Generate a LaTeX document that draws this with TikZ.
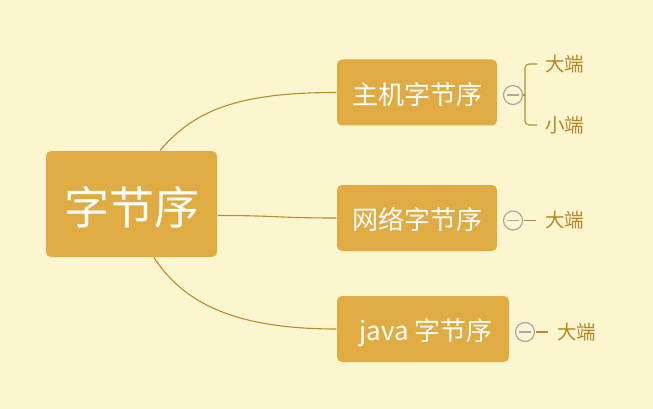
\documentclass[tikz,border=0pt]{standalone}
\usepackage{fontspec}
\setmainfont{Noto Sans CJK SC}
\usetikzlibrary{positioning,calc}
\definecolor{paper}{HTML}{FCF6D0}
\definecolor{topicfill}{HTML}{DFAB42}
\definecolor{linkcol}{HTML}{BC8A2E}
\definecolor{leafcol}{HTML}{B8862A}
\definecolor{foldgray}{HTML}{A8A8A8}
\begin{document}
\begin{tikzpicture}
[x=1pt, y=-1pt, line width=1.1pt,
root/.style={rectangle, rounded corners=5pt, fill=topicfill, text=white, inner sep=0pt, minimum width=171pt, minimum height=106pt, text height=44pt, text depth=3pt, font=\fontsize{45}{45}\selectfont},
topic/.style={rectangle, rounded corners=5pt, fill=topicfill, text=white, inner sep=0pt, minimum width=160pt, minimum height=66pt, text height=25.5pt, text depth=2pt, font=\fontsize{26}{26}\selectfont},
leaf/.style={rectangle, inner sep=1pt, text=leafcol, font=\fontsize{19.5}{20}\selectfont},
fold/.style={circle, draw=foldgray, fill=paper, line width=1.2pt, inner sep=0pt, minimum size=19pt,
  path picture={\draw[foldgray, line width=1.2pt] ([xshift=-6pt]path picture bounding box.center) -- ([xshift=6pt]path picture bounding box.center);}},
link/.style={draw=linkcol, line width=1.1pt}]

\useasboundingbox (0,0) rectangle (653,409);
\fill[paper] (0,0) rectangle (653,409);

\node[root] (bo) at (131.5,204) {字节序};
\node[topic] (host) at (417,92.5) {主机字节序};
\node[topic] (net) at (417,218) {网络字节序};
\node[topic, minimum width=172pt] (jv) at (423,329) {\hspace{6pt}java 字节序};

\draw[link] ([xshift=28.5pt]bo.north) .. controls +(35,-41) and +(-97,0) .. (host.west);
\draw[link] ([yshift=-11.5pt]bo.east) .. controls +(60,0) and +(-60,0) .. (net.west);
\draw[link] ([xshift=22.5pt]bo.south) .. controls +(31,48) and +(-97,0) .. (jv.west);

\node[fold] (fhost) at (513,95) {};
\node[fold] (fnet) at (513,220.5) {};
\node[fold] (fjv) at (525,332) {};

\node[leaf] (hbig) at (564.5,64) {大端};
\node[leaf] (hsmall) at (564.5,125) {小端};
\node[leaf] (nbig) at (564.5,220.5) {大端};
\node[leaf] (jbig) at (576.5,332) {大端};

\coordinate (hbr) at (525,95);
\draw[link, rounded corners=4pt] ([xshift=-6pt]hbig.west) -| (hbr) |- ([xshift=-6pt]hsmall.west);
\draw[link] (fhost.east) -- (hbr);
\draw[link] ([xshift=1pt]fnet.east) -- ([xshift=-7pt]nbig.west);
\draw[link] ([xshift=1pt]fjv.east) -- ([xshift=-7pt]jbig.west);
\end{tikzpicture}
\end{document}
